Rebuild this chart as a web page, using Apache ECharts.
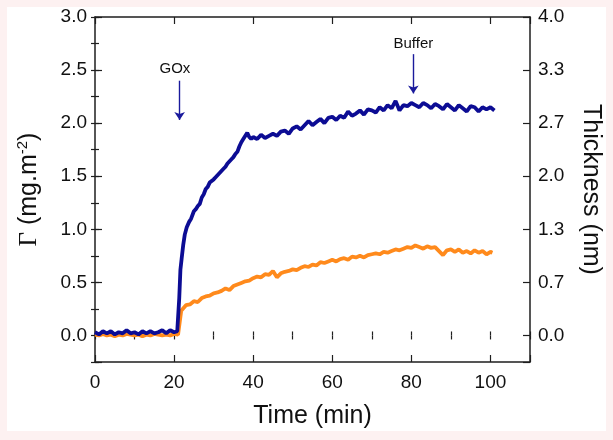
<!DOCTYPE html>
<html>
<head>
<meta charset="utf-8">
<script src="https://cdn.jsdelivr.net/npm/echarts@6/dist/echarts.min.js"></script>
<style>
  html, body { margin: 0; padding: 0; background: #fdf1f1; }
  #bg { position: absolute; left: 7px; top: 7px; width: 599px; height: 424px; background: #ffffff; }
  #chart { position: absolute; left: 0; top: 0; width: 613px; height: 440px; }
</style>
</head>
<body>
<div id="bg"></div>
<div id="chart"></div>
<script>
// ---- data ----
const blueTime = [0,1,2,3,4,5,6,7,8,9,10,11,12,13,14,15,16,17,18,19,20,20.8,21.0,21.3,21.6,21.9,22.3,22.7,23.2,23.8,24.3,
  25,25.5,26,26.5,27,27.5,28,28.5,29,29.5,30,30.5,31,31.5,32,32.5,33,33.5,34,34.5,35,35.5,36,36.5,37,37.5,38,38.5,39,39.5,
  40,41,42,43,44,45,46,47,48,49,50,51,52,53,54,55,56,57,58,59,60,61,62,63,64,65,66,67,68,69,70,
  71,72,73,74,75,76,77,78,79,80,81,82,83,84,85,86,87,88,89,90,91,92,93,94,95,96,97,98,99,100,101];
const gammaValues = [0.03,0.01,0.04,0.02,0.04,0.01,0.03,0.02,0.05,0.02,0.03,0.01,0.04,0.02,0.04,0.02,0.03,0.05,0.02,0.05,0.03,0.04,0.05,0.35,0.62,0.72,0.85,0.95,1.02,1.07,1.10,
  1.17,1.19,1.22,1.24,1.30,1.33,1.38,1.40,1.44,1.45,1.47,1.49,1.50,1.53,1.52,1.57,1.59,1.62,1.62,1.66,1.68,1.71,1.73,1.78,1.82,1.85,1.84,1.91,1.87,1.85,
  1.87,1.85,1.89,1.86,1.88,1.90,1.88,1.92,1.93,1.90,1.95,1.97,1.94,1.98,2.02,1.98,2.01,2.04,2.00,2.05,2.06,2.03,2.07,2.05,2.11,2.07,2.09,2.12,2.08,2.13,2.12,
  2.10,2.15,2.12,2.17,2.14,2.21,2.12,2.17,2.16,2.19,2.17,2.15,2.19,2.17,2.14,2.18,2.16,2.13,2.18,2.15,2.12,2.17,2.14,2.11,2.16,2.15,2.11,2.15,2.13,2.15,2.12];

const orangeTime = [0,1,2,3,4,5,6,7,8,9,10,11,12,13,14,15,16,17,18,19,20,21,21.5,21.8,
  22,23,24,25,26,27,28,29,30,31,32,33,34,35,36,37,38,39,40,41,42,43,44,45,46,47,48,49,50,
  51,52,53,54,55,56,57,58,59,60,61,62,63,64,65,66,67,68,69,70,71,72,73,74,75,76,77,78,79,80,
  81,82,83,84,85,86,87,88,89,90,91,92,93,94,95,96,97,98,99,100,100.5];
const thicknessValues = [0.01,0.00,0.02,0.00,0.01,-0.01,0.01,0.00,0.02,0.01,0.00,0.01,-0.01,0.01,0.00,0.02,0.01,0.00,0.01,0.00,0.02,0.01,0.01,0.31,
  0.32,0.38,0.39,0.43,0.42,0.47,0.49,0.50,0.53,0.54,0.56,0.59,0.57,0.62,0.64,0.66,0.68,0.69,0.72,0.74,0.73,0.77,0.76,0.81,0.73,0.78,0.80,0.81,0.83,
  0.82,0.85,0.87,0.86,0.89,0.88,0.92,0.91,0.93,0.95,0.93,0.96,0.97,0.95,0.99,0.98,1.00,0.98,1.01,1.02,1.03,1.02,1.05,1.04,1.06,1.08,1.07,1.09,1.11,1.10,
  1.13,1.11,1.09,1.12,1.10,1.11,1.06,1.01,1.07,1.08,1.05,1.08,1.04,1.06,1.03,1.07,1.04,1.06,1.02,1.05,1.04];

const xTickLabels = ['0','20','40','60','80','100'];
const leftTickLabels = ['0.0','0.5','1.0','1.5','2.0','2.5','3.0'];
const rightTickLabels = ['0.0','0.7','1.3','2.0','2.7','3.3','4.0'];

const annotations = [
  { name: 'GOx', time: 21.4, textTime: 20.2, textY: 2.51, arrowTop: 2.40, arrowEnd: 2.03 },
  { name: 'Buffer', time: 80.5, textTime: 80.5, textY: 2.75, arrowTop: 2.65, arrowEnd: 2.28 }
];

// ---- chart ----
const FONT = 'Liberation Sans';
const AXIS = '#1e1e1e';
const BLUE = '#0c0c94';
const ORANGE = '#ff8a1c';

function yLabel(list) {
  return function (v) {
    const idx = Math.round(v / 0.5);
    if (idx < 0 || Math.abs(v - idx * 0.5) > 1e-6) return '';
    return list[idx] !== undefined ? list[idx] : '';
  };
}

const chart = echarts.init(document.getElementById('chart'), null, { renderer: 'canvas' });

const majorX = (pos, showLabel) => ({
  type: 'value', position: pos, min: 0, max: 110, interval: 20,
  axisLine: { show: true, onZero: false, lineStyle: { color: AXIS, width: 1.5 } },
  axisTick: { show: true, inside: true, length: 7, lineStyle: { color: AXIS, width: 1.2 } },
  splitLine: { show: false },
  axisLabel: {
    show: showLabel, margin: 11, color: '#111', fontFamily: FONT, fontSize: 19,
    formatter: v => (xTickLabels.indexOf(String(v)) >= 0 ? String(v) : '')
  }
});
const minorX = (pos) => ({
  type: 'value', position: pos, min: 0, max: 110, interval: 10,
  axisLine: { show: false },
  axisTick: { show: true, inside: true, length: 4, lineStyle: { color: AXIS, width: 1.2 } },
  splitLine: { show: false }, axisLabel: { show: false }
});
const majorY = (pos, list) => ({
  type: 'value', position: pos, min: -0.25, max: 3.0,
  axisLine: { show: true, onZero: false, lineStyle: { color: AXIS, width: 1.5 } },
  axisTick: { show: true, inside: true, length: 7, lineStyle: { color: AXIS, width: 1.2 } },
  splitLine: { show: false },
  axisLabel: { show: true, margin: 8, color: '#111', fontFamily: FONT, fontSize: 19, formatter: yLabel(list) }
});
const minorY = (pos) => ({
  type: 'value', position: pos, min: -0.25, max: 3.0, interval: 0.25,
  axisLine: { show: false },
  axisTick: { show: true, inside: true, length: 4, lineStyle: { color: AXIS, width: 1.2 } },
  splitLine: { show: false }, axisLabel: { show: false }
});

const xBottom = majorX('bottom', true);
xBottom.name = 'Time (min)';
xBottom.nameLocation = 'middle';
xBottom.nameGap = 42;
xBottom.nameTextStyle = { fontFamily: FONT, fontSize: 25, color: '#111' };

const yLeft = majorY('left', leftTickLabels);
yLeft.name = '{g|Γ} (mg.m{sup|-2})';
yLeft.nameLocation = 'middle';
yLeft.nameGap = 52;
yLeft.nameTextStyle = {
  fontFamily: FONT, fontSize: 25, color: '#111',
  rich: {
    g: { fontFamily: 'Liberation Serif', fontSize: 25, color: '#111' },
    sup: { fontFamily: FONT, fontSize: 15, color: '#111', padding: [0, 0, 13, 0] }
  }
};

const yRight = majorY('right', rightTickLabels);
yRight.name = 'Thickness (nm)';
yRight.nameLocation = 'middle';
yRight.nameRotate = -90;
yRight.nameGap = 48;
yRight.nameTextStyle = { fontFamily: FONT, fontSize: 25, color: '#111' };

const option = {
  animation: false,
  backgroundColor: 'transparent',
  grid: { left: 95, right: 83, top: 17, bottom: 78, containLabel: false },
  xAxis: [xBottom, minorX('bottom'), majorX('top', false), minorX('top')],
  yAxis: [yLeft, minorY('left'), yRight, minorY('right'),
    { type: 'value', position: 'right', show: false, min: -1 / 3, max: 4, splitLine: { show: false } }],
  series: [
    {
      name: 'Thickness', type: 'line', xAxisIndex: 0, yAxisIndex: 4,
      data: orangeTime.map((t, i) => [t, thicknessValues[i]]),
      showSymbol: false, symbol: 'none',
      lineStyle: { color: ORANGE, width: 3.8 }, z: 3
    },
    {
      name: 'Gamma', type: 'line', xAxisIndex: 0, yAxisIndex: 0,
      data: blueTime.map((t, i) => [t, gammaValues[i]]),
      showSymbol: false, symbol: 'none',
      lineStyle: { color: BLUE, width: 3.8 }, z: 4,
      markLine: {
        silent: true, animation: false,
        symbol: ['none', 'arrow'], symbolSize: 8,
        lineStyle: { color: '#1a1a9c', width: 1.4, type: 'solid' },
        label: { show: false },
        data: annotations.map(a => [{ coord: [a.time, a.arrowTop] }, { coord: [a.time, a.arrowEnd] }])
      },
      markPoint: {
        silent: true, animation: false,
        symbol: 'circle', symbolSize: 0,
        label: { show: true, position: 'inside', formatter: '{b}', color: '#111', fontFamily: FONT, fontSize: 15 },
        data: annotations.map(a => ({ name: a.name, coord: [a.textTime, a.textY] }))
      }
    }
  ]
};
chart.setOption(option);
</script>
</body>
</html>
